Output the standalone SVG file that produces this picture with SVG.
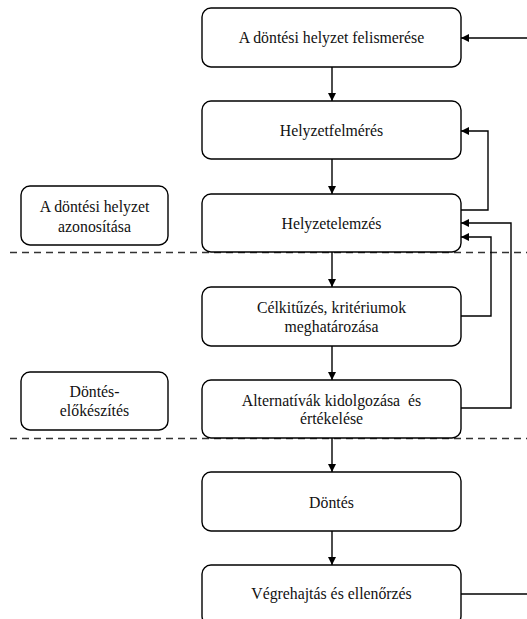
<svg xmlns="http://www.w3.org/2000/svg" width="527" height="619" viewBox="0 0 527 619">
<style>
.box{fill:#fff;stroke:#000;stroke-width:1.4}
.t{font-family:"Liberation Serif","Times New Roman",serif;font-size:15.8px;fill:#111;text-anchor:middle;white-space:pre}
.c{fill:none;stroke:#000;stroke-width:1.4}
.d{fill:none;stroke:#333;stroke-width:1.4;stroke-dasharray:7,5}
</style>
<defs>
<marker id="ah" viewBox="0 0 10 10" refX="10" refY="5" markerWidth="8" markerHeight="8" markerUnits="userSpaceOnUse" orient="auto">
<path d="M0,0L10,5L0,10z" fill="#000"/>
</marker>
</defs>
<g id="separators">
<line class="d" x1="10" y1="252.5" x2="527" y2="252.5"/>
<line class="d" x1="10" y1="438.5" x2="527" y2="438.5"/>
</g>
<g id="n1"><rect class="box" x="202" y="8" width="259" height="59" rx="9"/><text class="t" x="331.5" y="43">A döntési helyzet felismerése</text></g>
<g id="n2"><rect class="box" x="202" y="101" width="259" height="58" rx="9"/><text class="t" x="331.5" y="136">Helyzetfelmérés</text></g>
<g id="n3"><rect class="box" x="202" y="194" width="259" height="58" rx="9"/><text class="t" x="331.5" y="229">Helyzetelemzés</text></g>
<g id="n4"><rect class="box" x="202" y="287" width="259" height="59" rx="9"/><text class="t" x="331.5" y="313">Célkitűzés, kritériumok</text><text class="t" x="331.5" y="332">meghatározása</text></g>
<g id="n5"><rect class="box" x="202" y="380" width="259" height="58" rx="9"/><text class="t" x="331.5" y="406">Alternatívák kidolgozása  és</text><text class="t" x="331.5" y="424">értékelése</text></g>
<g id="n6"><rect class="box" x="202" y="472" width="259" height="59" rx="9"/><text class="t" x="331.5" y="508">Döntés</text></g>
<g id="n7"><rect class="box" x="202" y="565" width="259" height="60" rx="9"/><text class="t" x="331.5" y="599">Végrehajtás és ellenőrzés</text></g>
<g id="l1"><rect class="box" x="21" y="186" width="147" height="59" rx="9"/><text class="t" x="94.5" y="212">A döntési helyzet</text><text class="t" x="94.5" y="232">azonosítása</text></g>
<g id="l2"><rect class="box" x="21" y="372" width="147" height="58" rx="9"/><text class="t" x="94.5" y="397">Döntés-</text><text class="t" x="94.5" y="416">előkészítés</text></g>
<g id="connectors">
<line class="c" x1="332" y1="67" x2="332" y2="101" marker-end="url(#ah)"/>
<line class="c" x1="332" y1="159" x2="332" y2="194" marker-end="url(#ah)"/>
<line class="c" x1="332" y1="252" x2="332" y2="287" marker-end="url(#ah)"/>
<line class="c" x1="332" y1="346" x2="332" y2="380" marker-end="url(#ah)"/>
<line class="c" x1="332" y1="438" x2="332" y2="472" marker-end="url(#ah)"/>
<line class="c" x1="332" y1="531" x2="332" y2="565" marker-end="url(#ah)"/>
<line class="c" x1="527" y1="38" x2="461" y2="38" marker-end="url(#ah)"/>
<line class="c" x1="461" y1="594" x2="527" y2="594"/>
<polyline class="c" points="461,210 488,210 488,131 461,131" marker-end="url(#ah)"/>
<polyline class="c" points="461,316 491,316 491,237 461,237" marker-end="url(#ah)"/>
<polyline class="c" points="461,408 511,408 511,223 461,223" marker-end="url(#ah)"/>
</g>
</svg>
